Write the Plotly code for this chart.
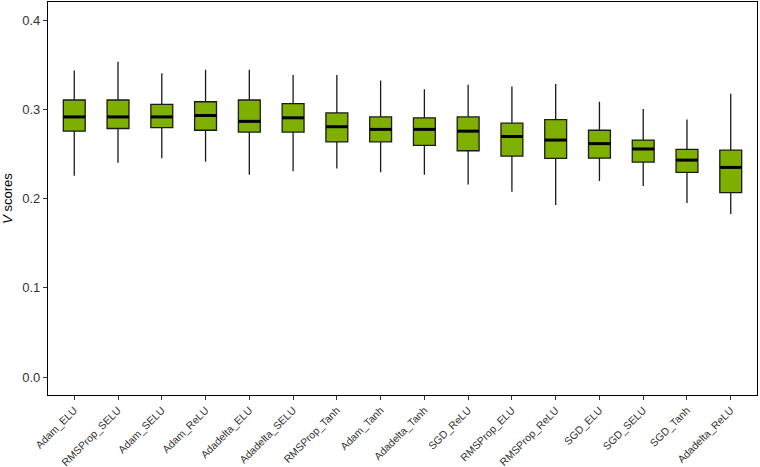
import plotly.graph_objects as go

categories = ["Adam_ELU", "RMSProp_SELU", "Adam_SELU", "Adam_ReLU", "Adadelta_ELU",
              "Adadelta_SELU", "RMSProp_Tanh", "Adam_Tanh", "Adadelta_Tanh", "SGD_ReLU",
              "RMSProp_ELU", "RMSProp_ReLU", "SGD_ELU", "SGD_SELU", "SGD_Tanh", "Adadelta_ReLU"]
upper = [0.344, 0.354, 0.341, 0.345, 0.345, 0.339, 0.339, 0.333, 0.323, 0.328,
         0.326, 0.329, 0.309, 0.301, 0.289, 0.318]
q3 = [0.311, 0.311, 0.306, 0.309, 0.311, 0.307, 0.2965, 0.292, 0.291, 0.292,
      0.285, 0.289, 0.277, 0.266, 0.2555, 0.2547]
median = [0.292, 0.292, 0.292, 0.2936, 0.287, 0.291, 0.281, 0.278, 0.278, 0.276,
          0.270, 0.266, 0.262, 0.256, 0.2435, 0.2353]
q1 = [0.276, 0.279, 0.280, 0.277, 0.275, 0.275, 0.264, 0.264, 0.260, 0.254,
      0.248, 0.2454, 0.2457, 0.2413, 0.2297, 0.2069]
lower = [0.226, 0.2405, 0.2457, 0.2416, 0.227, 0.231, 0.234, 0.230, 0.227, 0.216,
         0.208, 0.193, 0.220, 0.2144, 0.1953, 0.183]
y_ticks = [0.0, 0.1, 0.2, 0.3, 0.4]

pos = list(range(len(categories)))
box_w = 0.5

fig = go.Figure()
fig.add_trace(go.Box(
    x=pos, q1=q1, median=median, q3=q3, lowerfence=lower, upperfence=upper,
    width=box_w, whiskerwidth=0,
    fillcolor="#7fb000", line=dict(color="#1a1a1a", width=1.3),
    boxpoints=False, hoverinfo="skip", showlegend=False,
))

# thicker median bars (ggplot style)
mx, my = [], []
for p, m in zip(pos, median):
    mx += [p - box_w / 2, p + box_w / 2, None]
    my += [m, m, None]
fig.add_trace(go.Scatter(x=mx, y=my, mode="lines",
                         line=dict(color="black", width=3),
                         hoverinfo="skip", showlegend=False))

fig.update_layout(
    width=760, height=467,
    margin=dict(l=48, r=3, t=2, b=72),
    paper_bgcolor="white", plot_bgcolor="white",
    font=dict(family="Liberation Sans, Arial, sans-serif", color="black"),
)
fig.update_xaxes(
    range=[-0.6, len(categories) - 0.4], automargin=False,
    tickmode="array", tickvals=pos, ticktext=categories,
    tickangle=-45, tickfont=dict(size=10.5, color="#333333"),
    ticks="outside", ticklen=4, tickcolor="#333333",
    showline=True, linecolor="black", linewidth=1.2, mirror=True,
    showgrid=False, zeroline=False,
)
fig.update_yaxes(
    range=[-0.0202, 0.421], automargin=False,
    tickmode="array", tickvals=y_ticks, ticktext=[f"{v:.1f}" for v in y_ticks],
    tickfont=dict(size=13, color="#333333"),
    ticks="outside", ticklen=4, tickcolor="#333333",
    showline=True, linecolor="black", linewidth=1.2, mirror=True,
    showgrid=False, zeroline=False,
    title=dict(text="<i>V</i> scores", font=dict(size=13), standoff=6),
)

fig.write_html("out.html", config={"displayModeBar": False},
               post_script="document.body.style.margin='0px';")
